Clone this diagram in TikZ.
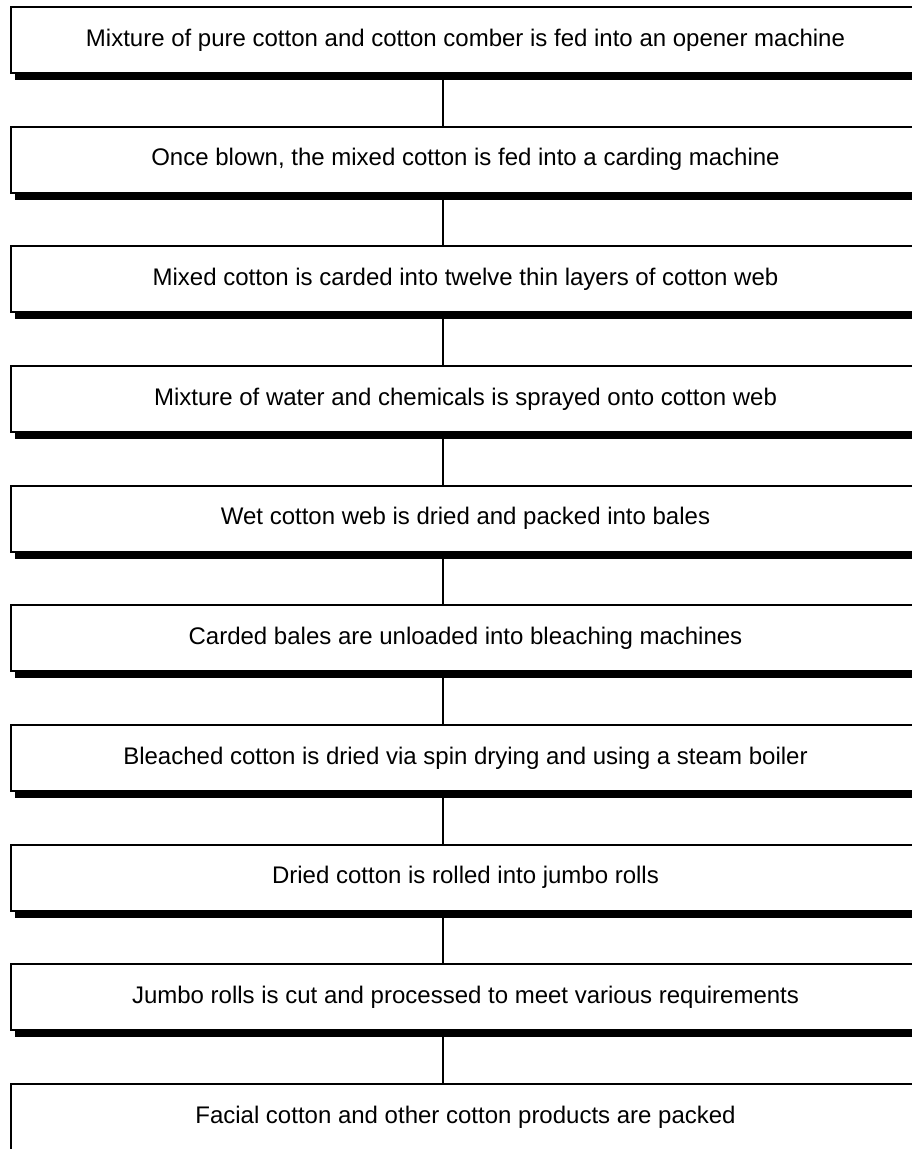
\documentclass[tikz,border=0pt]{standalone}
\usepackage{fontspec}
\setmainfont{Liberation Sans}
\usetikzlibrary{shadows}
\begin{document}
\begin{tikzpicture}[x=1pt,y=-1pt,
  stepbox/.style={draw=black,line width=1.8pt,fill=white,minimum width=909pt,minimum height=66pt,inner sep=0pt,font=\fontsize{24}{28}\selectfont,drop shadow={shadow xshift=4pt,shadow yshift=-7pt,fill=black,opacity=1}},
  link/.style={draw=black,line width=1.8pt}]
\useasboundingbox (0,0) rectangle (912,1149);
\node[stepbox] (s1) at (465.5,40) {Mixture of pure cotton and cotton comber is fed into an opener machine};
\node[stepbox] (s2) at (465.5,159.7) {Once blown, the mixed cotton is fed into a carding machine};
\node[stepbox] (s3) at (465.5,279.3) {Mixed cotton is carded into twelve thin layers of cotton web};
\node[stepbox] (s4) at (465.5,399) {Mixture of water and chemicals is sprayed onto cotton web};
\node[stepbox] (s5) at (465.5,518.7) {Wet cotton web is dried and packed into bales};
\node[stepbox] (s6) at (465.5,638.3) {Carded bales are unloaded into bleaching machines};
\node[stepbox] (s7) at (465.5,758) {Bleached cotton is dried via spin drying and using a steam boiler};
\node[stepbox] (s8) at (465.5,877.7) {Dried cotton is rolled into jumbo rolls};
\node[stepbox] (s9) at (465.5,997.3) {Jumbo rolls is cut and processed to meet various requirements};
\node[stepbox] (s10) at (465.5,1117) {Facial cotton and other cotton products are packed};
\draw[link] ([xshift=-22.5pt]s1.south) -- ([xshift=-22.5pt]s2.north);
\draw[link] ([xshift=-22.5pt]s2.south) -- ([xshift=-22.5pt]s3.north);
\draw[link] ([xshift=-22.5pt]s3.south) -- ([xshift=-22.5pt]s4.north);
\draw[link] ([xshift=-22.5pt]s4.south) -- ([xshift=-22.5pt]s5.north);
\draw[link] ([xshift=-22.5pt]s5.south) -- ([xshift=-22.5pt]s6.north);
\draw[link] ([xshift=-22.5pt]s6.south) -- ([xshift=-22.5pt]s7.north);
\draw[link] ([xshift=-22.5pt]s7.south) -- ([xshift=-22.5pt]s8.north);
\draw[link] ([xshift=-22.5pt]s8.south) -- ([xshift=-22.5pt]s9.north);
\draw[link] ([xshift=-22.5pt]s9.south) -- ([xshift=-22.5pt]s10.north);
\end{tikzpicture}
\end{document}
